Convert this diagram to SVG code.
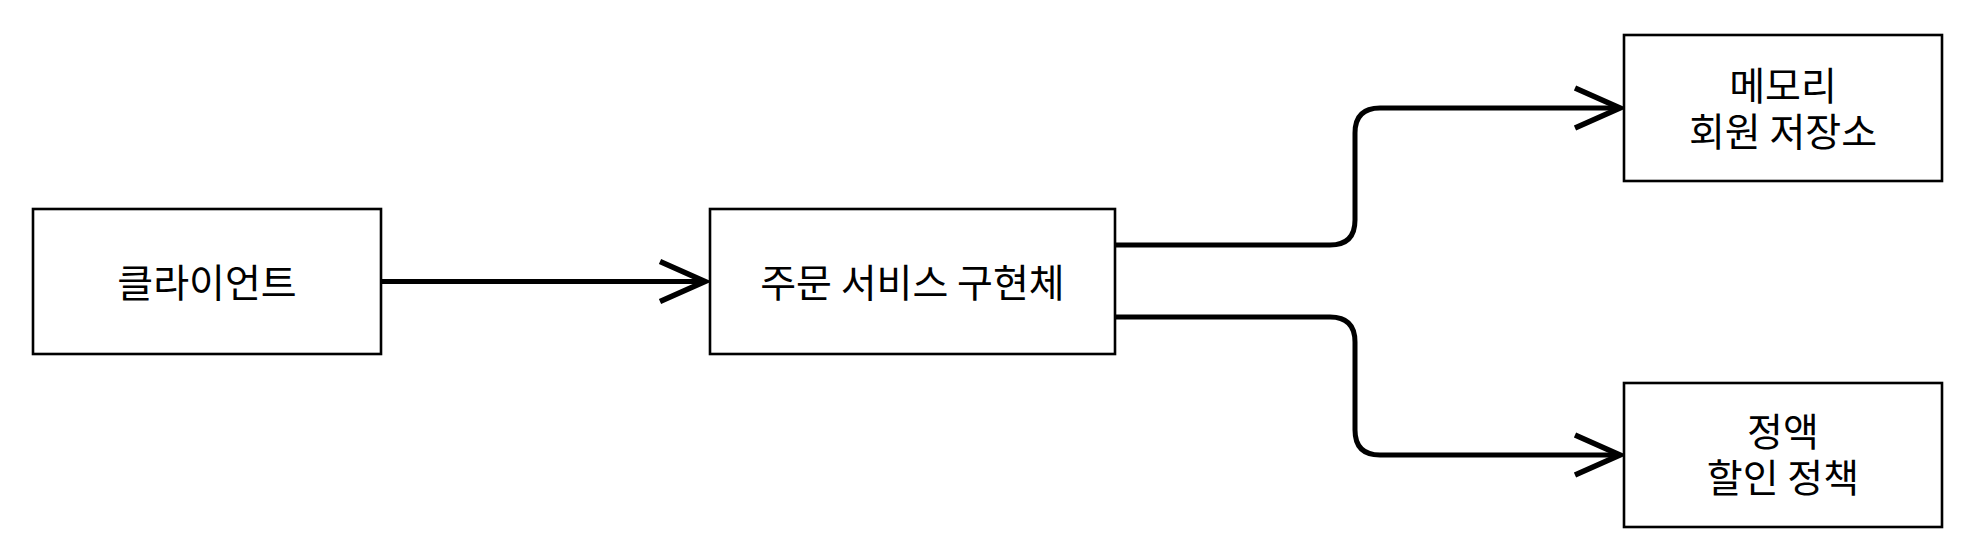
<svg xmlns="http://www.w3.org/2000/svg" width="1962" height="548" viewBox="0 0 1962 548">
  <style>
    .box { fill: #ffffff; stroke: #000000; stroke-width: 2.6; }
    .lbl { font-family: "Noto Sans CJK KR", "Noto Sans", sans-serif; font-size: 39px; fill: #000000; text-anchor: middle; }
    .edge { fill: none; stroke: #000000; stroke-width: 5; }
  </style>
  <defs>
    <marker id="open" markerUnits="userSpaceOnUse" orient="auto" markerWidth="60" markerHeight="60" refX="0" refY="0" viewBox="-50 -30 60 60" overflow="visible">
      <path d="M -45 -20 L 0 0 L -45 20" fill="none" stroke="#000000" stroke-width="5.5" stroke-linejoin="miter"/>
    </marker>
  </defs>
  <rect width="1962" height="548" fill="#ffffff"/>
  <g id="connectors">
    <path class="edge" d="M 381 281.5 L 705 281.5" marker-end="url(#open)"/>
    <path class="edge" d="M 1115 245 L 1330 245 Q 1355 245 1355 220 L 1355 133 Q 1355 108 1380 108 L 1620 108" marker-end="url(#open)"/>
    <path class="edge" d="M 1115 317 L 1330 317 Q 1355 317 1355 342 L 1355 430 Q 1355 455 1380 455 L 1620 455" marker-end="url(#open)"/>
  </g>
  <g id="client">
    <rect class="box" x="33" y="209" width="348" height="145"/>
    <text class="lbl" x="207" y="297">클라이언트</text>
  </g>
  <g id="order-service">
    <rect class="box" x="710" y="209" width="405" height="145"/>
    <text class="lbl" x="912.5" y="297">주문 서비스 구현체</text>
  </g>
  <g id="memory-repo">
    <rect class="box" x="1624" y="35" width="318" height="146"/>
    <text class="lbl" x="1783" y="100"><tspan x="1783">메모리</tspan><tspan x="1783" dy="46">회원 저장소</tspan></text>
  </g>
  <g id="fix-discount">
    <rect class="box" x="1624" y="383" width="318" height="144"/>
    <text class="lbl" x="1783" y="446"><tspan x="1783">정액</tspan><tspan x="1783" dy="46">할인 정책</tspan></text>
  </g>
</svg>
